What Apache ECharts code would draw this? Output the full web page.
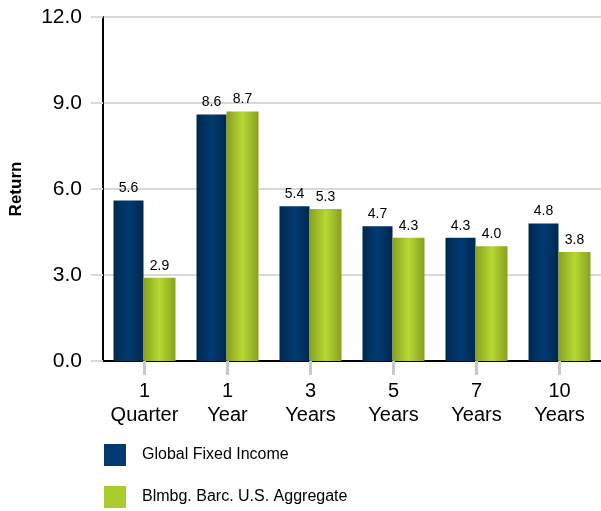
<!DOCTYPE html>
<html><head><meta charset="utf-8">
<script src="https://cdn.jsdelivr.net/npm/echarts@6/dist/echarts.min.js"></script>
<style>html,body{margin:0;padding:0;background:#fff}#c{width:601px;height:511px}</style>
</head><body><div id="c"></div>
<script>
var categories = ['1\nQuarter', '1\nYear', '3\nYears', '5\nYears', '7\nYears', '10\nYears'];
var globalFixedIncome = [5.6, 8.6, 5.4, 4.7, 4.3, 4.8];
var blmbgAggregate = [2.9, 8.7, 5.3, 4.3, 4.0, 3.8];
var yTicks = [0, 3, 6, 9, 12];
var seriesNames = ['Global Fixed Income', 'Blmbg. Barc. U.S. Aggregate'];

function grad(edge, mid) {
  return new echarts.graphic.LinearGradient(0, 0, 1, 0, [
    {offset: 0, color: edge}, {offset: 0.5, color: mid}, {offset: 1, color: edge}
  ]);
}
var font = 'Arial, "Liberation Sans", sans-serif';
function legendAt(top, name, color) {
  return {
    orient: 'vertical', left: 104, top: top, itemWidth: 22, itemHeight: 22,
    icon: 'rect', itemGap: 0, padding: 0,
    textStyle: {fontFamily: font, fontSize: 16, color: '#000', padding: [0, 0, 0, 11]},
    data: [{name: name, itemStyle: {color: color}}]
  };
}
var labelCfg = {show: true, position: 'top', distance: 5, fontFamily: font, fontSize: 14, color: '#000',
  formatter: function (p) { return p.value.toFixed(1); }};
var chart = echarts.init(document.getElementById('c'));
chart.setOption({
  animation: false,
  grid: {left: 100, right: 0, top: 17, bottom: 150},
  legend: [legendAt(444, seriesNames[0], '#003a70'), legendAt(486, seriesNames[1], '#a9cd2d')],
  xAxis: {
    type: 'category', data: categories,
    axisLine: {lineStyle: {color: '#000', width: 2}},
    axisTick: {show: true, alignWithLabel: true, length: 14, lineStyle: {color: '#c8c8c8', width: 3}},
    axisLabel: {interval: 0, fontFamily: font, fontSize: 20, color: '#000', lineHeight: 24, margin: 18}
  },
  yAxis: {
    type: 'value', min: yTicks[0], max: yTicks[yTicks.length - 1], interval: 3,
    name: 'Return', nameLocation: 'middle', nameGap: 78, nameRotate: 90,
    nameTextStyle: {fontFamily: font, fontSize: 17, fontWeight: 'bold', color: '#000'},
    axisLine: {show: true, lineStyle: {color: '#000', width: 2}},
    axisTick: {show: true, length: 12, lineStyle: {color: '#d9d9d9', width: 2}},
    splitLine: {lineStyle: {color: '#d9d9d9', width: 2}},
    axisLabel: {fontFamily: font, fontSize: 21, color: '#000', margin: 21,
      formatter: function (v) { return v.toFixed(1); }}
  },
  series: [
    {name: seriesNames[0], type: 'bar', data: globalFixedIncome, barWidth: 30, barGap: 0,
      itemStyle: {color: grad('#00284f', '#003b72')}, label: labelCfg},
    {name: seriesNames[1], type: 'bar', data: blmbgAggregate, barWidth: 32,
      itemStyle: {color: grad('#88a01f', '#b6d934')}, label: labelCfg}
  ]
});
</script></body></html>
